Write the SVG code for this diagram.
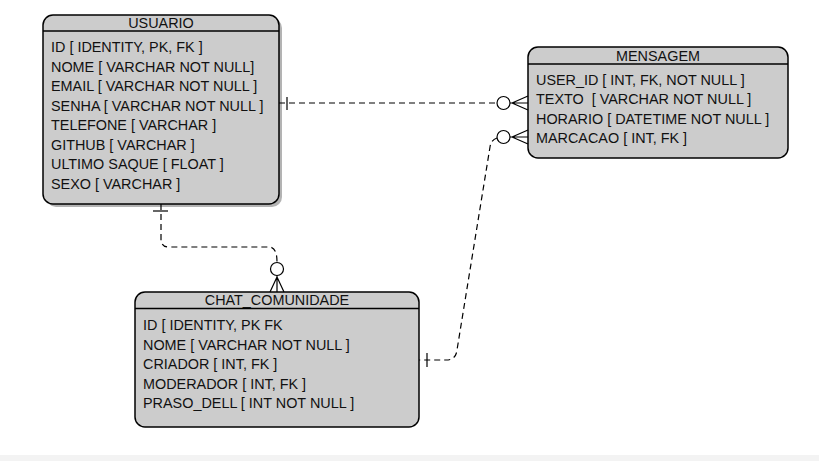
<svg xmlns="http://www.w3.org/2000/svg" width="819" height="461" viewBox="0 0 819 461">
<defs>
<style>
.box{fill:#cccccc;stroke:#000;stroke-width:1.5}
.shadow{fill:#b3b3b3}
.sep{stroke:#000;stroke-width:1.3}
.t{font-family:"Liberation Sans",Arial,sans-serif;font-size:14.4px;fill:#111;dominant-baseline:central}
.title{text-anchor:middle}
.con{fill:none;stroke:#000;stroke-width:1.2;stroke-dasharray:6 4}
.sym{fill:none;stroke:#000;stroke-width:1.2}
.circ{fill:#fff;stroke:#000;stroke-width:1.2}
</style>
</defs>
<rect width="819" height="461" fill="#fff"/>
<rect x="0" y="455" width="819" height="6" fill="#f3f3f3"/>
<g id="usuario">
<rect class="shadow" x="46" y="18" width="236" height="189" rx="10"/>
<rect class="box" x="43" y="15" width="236" height="189" rx="10"/>
<line class="sep" x1="43" y1="31" x2="279" y2="31"/>
<text class="t title" x="161" y="23">USUARIO</text>
<text class="t" x="51" y="47">ID [ IDENTITY, PK, FK ]</text>
<text class="t" x="51" y="66.5">NOME [ VARCHAR NOT NULL]</text>
<text class="t" x="51" y="86">EMAIL [ VARCHAR NOT NULL ]</text>
<text class="t" x="51" y="105.5">SENHA [ VARCHAR NOT NULL ]</text>
<text class="t" x="51" y="125">TELEFONE [ VARCHAR ]</text>
<text class="t" x="51" y="144.5">GITHUB [ VARCHAR ]</text>
<text class="t" x="51" y="164">ULTIMO SAQUE [ FLOAT ]</text>
<text class="t" x="51" y="183.5">SEXO [ VARCHAR ]</text>
</g>
<g id="mensagem">
<rect class="box" x="528" y="47" width="260" height="111" rx="10"/>
<line class="sep" x1="528" y1="64" x2="788" y2="64"/>
<text class="t title" x="658" y="56">MENSAGEM</text>
<text class="t" x="536" y="79.5">USER_ID [ INT, FK, NOT NULL ]</text>
<text class="t" x="536" y="99">TEXTO &#160;[ VARCHAR NOT NULL ]</text>
<text class="t" x="536" y="118.5">HORARIO [ DATETIME NOT NULL ]</text>
<text class="t" x="536" y="138">MARCACAO [ INT, FK ]</text>
</g>
<g id="chat_comunidade">
<rect class="box" x="135" y="292" width="284" height="135" rx="10"/>
<line class="sep" x1="135" y1="308.5" x2="419" y2="308.5"/>
<text class="t title" x="277" y="299.5">CHAT_COMUNIDADE</text>
<text class="t" x="143" y="325">ID [ IDENTITY, PK FK</text>
<text class="t" x="143" y="344.5">NOME [ VARCHAR NOT NULL ]</text>
<text class="t" x="143" y="364">CRIADOR [ INT, FK ]</text>
<text class="t" x="143" y="383.5">MODERADOR [ INT, FK ]</text>
<text class="t" x="143" y="403">PRASO_DELL [ INT NOT NULL ]</text>
</g>
<g id="connectors">
<path class="con" d="M279,103 H497"/>
<line class="sym" x1="287" y1="97" x2="287" y2="110"/>
<path class="sym" d="M510,103 H528 M512,103 L528,96 M512,103 L528,110"/>
<circle class="circ" cx="503.5" cy="103" r="6.5"/>

<path class="con" d="M497,138 Q491,140 490,147 L457,350 Q456,360 446,360 H419"/>
<line class="sym" x1="427" y1="353" x2="427" y2="367"/>
<path class="sym" d="M510,137 H528 M512,137 L528,130 M512,137 L528,144"/>
<circle class="circ" cx="503.5" cy="137" r="6.5"/>

<path class="con" d="M161,204 V239 Q161,247 169,247 H269 Q277,247 277,262"/>
<line class="sym" x1="153" y1="211" x2="168" y2="211"/>
<path class="sym" d="M277,275 V292 M277,277 L270,292 M277,277 L284,292"/>
<circle class="circ" cx="277" cy="269" r="6.5"/>
</g>
</svg>
